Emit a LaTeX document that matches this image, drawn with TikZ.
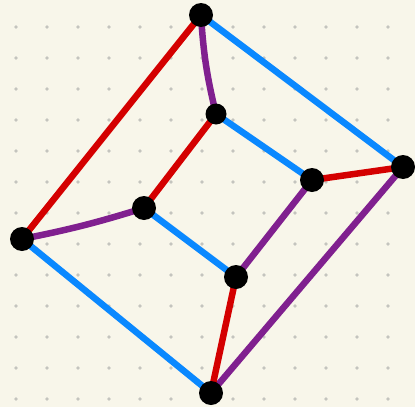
\documentclass[tikz,border=0pt]{standalone}
\usetikzlibrary{backgrounds}
\definecolor{bg}{HTML}{F8F6EA}
\definecolor{dotc}{HTML}{C4C4BE}
\definecolor{ered}{HTML}{D40000}
\definecolor{eblue}{HTML}{0A88FF}
\definecolor{epurp}{HTML}{80208F}
\tikzset{
  vtx/.style={circle,fill=black,inner sep=0pt,minimum size=24pt},
  edge/.style={line width=6.5pt,line cap=round,line join=round},
  rd/.style={edge,ered},
  bl/.style={edge,eblue},
  pu/.style={edge,epurp}
}
\begin{document}
\begin{tikzpicture}[x=1pt,y=-1pt]
\useasboundingbox (0,0) rectangle (415,407);
\begin{scope}[on background layer]
\fill[bg] (0,0) rectangle (415,407);
\foreach \i in {0,...,12}{
  \foreach \j in {0,...,12}{
    \fill[dotc] ({16+31*\i},{27+31*\j}) circle (1.8pt);
  }
}
\end{scope}
\node[vtx] (A) at (201,15) {};
\node[vtx] (B) at (403,167) {};
\node[vtx] (C) at (211,393) {};
\node[vtx] (D) at (22,239) {};
\node[vtx,minimum size=21pt] (E) at (216,114) {};
\node[vtx] (F) at (312,180) {};
\node[vtx] (G) at (236,277) {};
\node[vtx] (H) at (144,208) {};
\begin{scope}[on background layer]
\draw[rd] (A.center) -- (D.center);
\draw[bl] (A.center) -- (B.center);
\draw[pu] (A.center) to[bend right=5] (E.center);
\draw[rd] (B.center) -- (F.center);
\draw[pu] (B.center) -- (C.center);
\draw[rd] (C.center) -- (G.center);
\draw[bl] (C.center) -- (D.center);
\draw[pu] (D.center) to[bend right=3] (H.center);
\draw[bl] (E.center) -- (F.center);
\draw[rd] (E.center) -- (H.center);
\draw[pu] (F.center) -- (G.center);
\draw[bl] (G.center) -- (H.center);
\end{scope}
\end{tikzpicture}
\end{document}
